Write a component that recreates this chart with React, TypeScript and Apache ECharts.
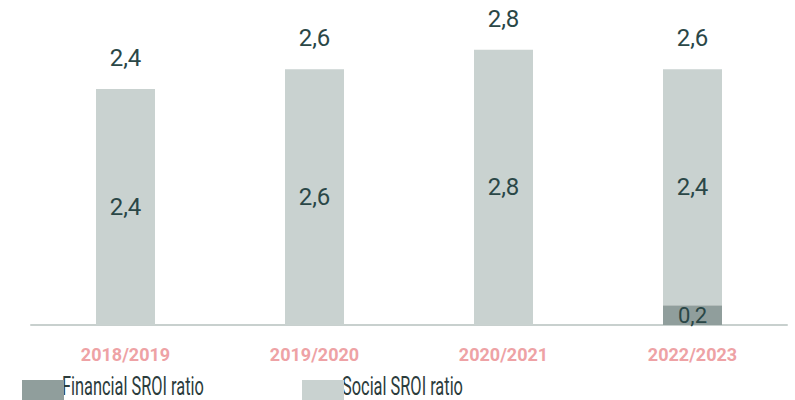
import React, { useEffect, useRef } from "react";
import * as echarts from "echarts";

const categories = ["2018/2019", "2019/2020", "2020/2021", "2022/2023"];
const financialValues = [0, 0, 0, 0.2];
const socialValues = [2.4, 2.6, 2.8, 2.4];
const totalValues = [2.4, 2.6, 2.8, 2.6];
const seriesNames = ["Financial SROI ratio", "Social SROI ratio"];

const FIN_COLOR = "#909e9c";
const SOC_COLOR = "#c9d2d0";
const TEXT_COLOR = "#2a4747";
const LEGEND_TEXT = "#2c3c3c";
const VALUE_FONT = "'Roboto', 'Liberation Sans', sans-serif";

const fmt = (v: number) => v.toFixed(1).replace(".", ",");

export default function App() {
  const ref = useRef<HTMLDivElement>(null);
  useEffect(() => {
    if (!ref.current) return;
    const chart = echarts.init(ref.current, null, { renderer: "svg" });
    const legendBase = {
      top: 375,
      itemWidth: 42,
      itemHeight: 23,
      icon: "rect",
      formatter: () => "",
      textStyle: { fontSize: 1 },
    };
    const legendText = (x: number, text: string) => ({
      type: "text",
      x,
      y: 386,
      scaleX: 0.63,
      silent: true,
      style: {
        text,
        fontFamily: VALUE_FONT,
        fontSize: 26,
        fill: LEGEND_TEXT,
        verticalAlign: "middle",
        align: "left",
      },
    });
    chart.setOption({
      animation: false,
      backgroundColor: "#ffffff",
      grid: { left: 31, right: 8, top: 30, bottom: 75, containLabel: false },
      legend: [
        { ...legendBase, data: [seriesNames[0]], left: 17 },
        { ...legendBase, data: [seriesNames[1]], left: 297 },
      ],
      graphic: [legendText(62, seriesNames[0]), legendText(342, seriesNames[1])],
      xAxis: {
        type: "category",
        data: categories,
        axisLine: { show: true, lineStyle: { color: "#c8d0ce", width: 2 } },
        axisTick: { show: false },
        axisLabel: {
          color: "#eea2a5",
          fontFamily: VALUE_FONT,
          fontWeight: "bold",
          fontSize: 18,
          margin: 20,
        },
      },
      yAxis: {
        type: "value",
        min: 0,
        max: 3,
        show: false,
        splitLine: { show: false },
      },
      series: [
        {
          name: seriesNames[0],
          type: "bar",
          stack: "sroi",
          barWidth: 59,
          data: financialValues,
          itemStyle: { color: FIN_COLOR },
          label: {
            show: true,
            position: "inside",
            color: TEXT_COLOR,
            fontFamily: VALUE_FONT,
            fontSize: 22,
            formatter: (p: any) => (p.value > 0 ? fmt(p.value) : ""),
          },
        },
        {
          name: seriesNames[1],
          type: "bar",
          stack: "sroi",
          barWidth: 59,
          data: socialValues,
          itemStyle: { color: SOC_COLOR },
          label: {
            show: true,
            position: "inside",
            color: TEXT_COLOR,
            fontFamily: VALUE_FONT,
            fontSize: 24,
            formatter: (p: any) => fmt(p.value),
          },
        },
        {
          name: "Total",
          type: "bar",
          barWidth: 59,
          barGap: "-100%",
          data: totalValues,
          itemStyle: { color: "rgba(0,0,0,0)" },
          silent: true,
          z: 1,
          label: {
            show: true,
            position: "top",
            distance: 19,
            color: TEXT_COLOR,
            fontFamily: VALUE_FONT,
            fontSize: 24,
            formatter: (p: any) => fmt(p.value),
          },
        },
      ],
    });
    return () => chart.dispose();
  }, []);
  return <div ref={ref} style={{ width: 795, height: 400, position: "absolute", left: 0, top: 0 }} />;
}
